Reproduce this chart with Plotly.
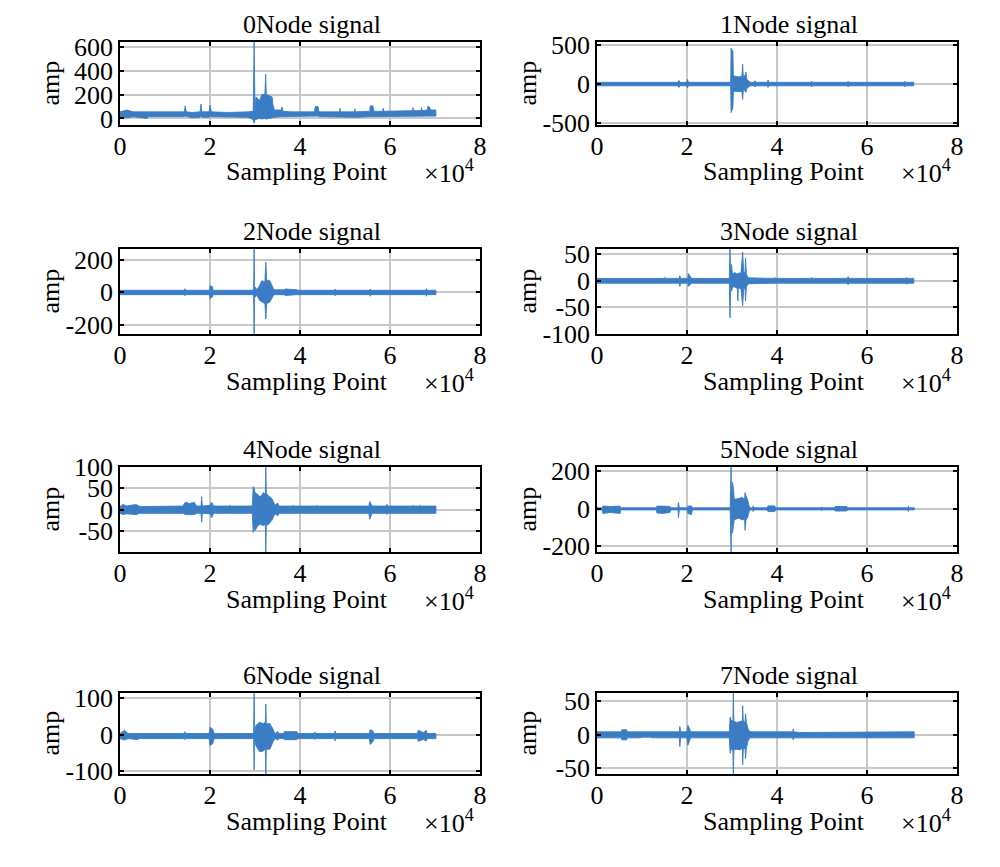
import plotly.graph_objects as go

W, H = 1000, 867
LINE = "rgb(58,125,197)"
FONT = "Liberation Serif"
FS = 26

# ---------------- data (envelopes) ----------------
titles = ["0Node signal", "1Node signal", "2Node signal", "3Node signal",
          "4Node signal", "5Node signal", "6Node signal", "7Node signal"]
x_label = "Sampling Point"
x_exp = "×10<sup>4</sup>"
y_label = "amp"
x_tickvals = [0, 20000, 40000, 60000, 80000]
x_ticktext = ["0", "2", "4", "6", "8"]

n0_x = [0, 1500, 3000, 6000, 6200, 9000, 14300, 14500, 14700, 16000, 17800, 18000, 18200, 19800, 20000, 20300,
        24000, 28500, 29600, 29800, 30000, 30200, 31000, 31500, 32200, 32370, 32500, 33200, 33800, 34000, 34300,
        35800, 36000, 36200, 38000, 43200, 43400, 44000, 44200, 48800, 48900, 49000, 52100, 52200, 52300,
        55500, 55600, 56200, 56400, 58400, 58500, 58600, 62000, 65000, 65100, 65200, 66900, 67000, 67100,
        68300, 68400, 68800, 69000, 70200]
n0_hi = [55, 70, 55, 55, 55, 50, 55, 105, 55, 50, 55, 120, 55, 55, 110, 55,
         50, 55, 60, 640, 60, 180, 150, 200, 200, 370, 200, 190, 180, 110, 70,
         70, 95, 60, 55, 55, 100, 100, 55, 55, 85, 55, 55, 80, 55,
         60, 105, 105, 60, 60, 85, 60, 65, 65, 90, 65, 65, 90, 65,
         70, 100, 95, 70, 70]
n0_lo = [10, 5, 15, 0, 15, 15, 15, 20, 15, 5, 10, 20, 10, 10, 15, 15,
         15, 10, -10, -40, -10, -10, 0, -5, 0, -5, -5, 0, 5, 10, 10,
         15, 15, 15, 15, 15, 20, 20, 15, 15, 15, 15, 10, 10, 10,
         15, 20, 20, 15, 15, 15, 15, 20, 20, 20, 20, 15, 15, 15,
         20, 20, 20, 20, 20]

n1_x = [0, 18000, 18200, 18400, 19900, 20100, 20300, 29700, 29800, 30000, 30200, 30300, 30500, 31500, 32200,
        32370, 32500, 33000, 33100, 33300, 33700, 34000, 35000, 35100, 35300, 37900, 38000, 38200,
        47600, 47700, 47800, 55700, 55800, 55900, 68300, 68400, 68500, 70400]
n1_hi = [20, 20, 45, 20, 20, 60, 20, 20, 460, 440, 420, 120, 100, 90, 100,
         255, 100, 110, 150, 60, 40, 20, 20, 40, 20, 20, 50, 20,
         20, 35, 20, 20, 35, 20, 20, 35, 20, 20]
n1_lo = [-25, -25, -45, -25, -25, -50, -25, -25, -370, -340, -300, -110, -95, -100, -100,
         -200, -90, -90, -110, -60, -40, -25, -25, -40, -25, -25, -45, -25,
         -25, -40, -25, -25, -40, -25, -25, -40, -25, -25]

n2_x = [0, 14300, 14450, 14600, 19900, 20000, 20500, 20700, 29700, 29800, 29900, 30100, 30400, 31000, 31500,
        32200, 32400, 32600, 33300, 33700, 34200, 36500, 36700, 39300, 39500, 47700, 47800, 47900,
        55500, 55600, 55800, 68000, 68100, 68200, 70200]
n2_hi = [12, 12, 22, 12, 12, 40, 35, 12, 12, 290, 12, 30, 15, 40, 70,
         65, 185, 75, 70, 40, 15, 15, 20, 15, 12, 12, 20, 12,
         12, 20, 12, 12, 22, 12, 12]
n2_lo = [-15, -15, -22, -15, -15, -40, -30, -15, -15, -290, -15, -30, -15, -50, -60,
         -70, -165, -70, -60, -40, -15, -15, -20, -15, -15, -15, -22, -15,
         -15, -25, -15, -15, -25, -15, -15]

n3_x = [0, 15000, 15100, 15200, 18300, 18400, 18600, 20200, 20300, 20800, 21000, 29400, 29550, 29700, 29900,
        30100, 30600, 31200, 31300, 31400, 32000, 32370, 32600, 32900, 33000, 33200, 33600,
        39400, 39500, 39600, 47600, 47700, 47800, 55600, 55800, 56000, 68600, 68800, 69000, 70400]
n3_hi = [4, 4, 6, 4, 4, 9, 4, 4, 13, 7, 4, 4, 62, 10, 30,
         12, 15, 12, 12, 14, 14, 53, 16, 15, 42, 12, 5,
         4, 6, 4, 4, 6, 4, 4, 7, 4, 4, 6, 4, 4]
n3_lo = [-5, -5, -6, -5, -5, -11, -5, -5, -11, -7, -5, -5, -70, -10, -20,
         -12, -12, -15, -38, -14, -15, -47, -15, -15, -38, -12, -6,
         -5, -6, -5, -5, -6, -5, -5, -8, -5, -5, -7, -5, -5]

n4_x = [0, 700, 1500, 3500, 4400, 14000, 14500, 15500, 16500, 17000, 18000, 18150, 18300, 20000, 20400, 20800,
        24300, 24400, 24500, 29400, 29600, 29800, 30000, 30600, 31200, 31900, 32300, 32400, 32500, 33000,
        33800, 34400, 35100, 35300, 38400, 38500, 38600, 43600, 43700, 43800, 55300, 55500, 55800, 56000,
        59200, 59300, 59500, 65100, 65200, 65300, 66600, 66700, 66800, 70200]
n4_hi = [7, 12, 8, 12, 7, 8, 17, 14, 17, 8, 8, 30, 8, 10, 17, 8,
         8, 10, 8, 8, 54, 50, 40, 35, 30, 40, 35, 105, 38, 32,
         25, 10, 15, 8, 8, 10, 8, 8, 10, 8, 8, 19, 14, 8,
         8, 12, 8, 8, 10, 8, 8, 10, 8, 8]
n4_lo = [-9, -12, -10, -12, -9, -9, -12, -12, -12, -9, -9, -30, -9, -10, -19, -9,
         -9, -10, -9, -9, -54, -40, -50, -38, -35, -38, -35, -105, -38, -35,
         -25, -10, -15, -9, -9, -10, -9, -9, -10, -9, -9, -23, -16, -9,
         -9, -12, -9, -9, -10, -9, -9, -10, -9, -9]

n5_x = [0, 1200, 1300, 3000, 5100, 5300, 13200, 13300, 14500, 16200, 16400, 18000, 18100, 18300, 20100, 20200,
        21000, 21200, 29600, 29800, 29900, 30100, 30300, 30500, 31500, 32300, 32800, 32900, 33100, 33500,
        33800, 34000, 34600, 34700, 34800, 37800, 38000, 39500, 39700, 49800, 49900, 50000, 52800, 52900,
        55500, 55700, 69100, 69200, 69300, 70500]
n5_hi = [5, 5, 14, 12, 14, 5, 5, 14, 14, 12, 5, 5, 33, 5, 5, 14,
         14, 5, 5, 240, 30, 140, 110, 50, 55, 60, 50, 86, 70, 45,
         15, 5, 5, 15, 5, 5, 15, 15, 5, 5, 10, 5, 5, 12,
         12, 5, 5, 15, 5, 5]
n5_lo = [-6, -6, -25, -20, -25, -6, -6, -22, -25, -20, -6, -6, -48, -6, -6, -25,
         -31, -6, -6, -240, -30, -130, -100, -58, -50, -60, -55, -115, -60, -45,
         -15, -6, -6, -15, -6, -6, -15, -15, -6, -6, -10, -6, -6, -12,
         -12, -6, -6, -15, -6, -6]

n6_x = [0, 1000, 1800, 4000, 4100, 14300, 14400, 14600, 19800, 20000, 20600, 20900, 29700, 29800, 29900, 30200,
        31000, 31800, 32300, 32400, 32500, 33300, 34000, 34400, 35100, 35300, 36400, 36500, 39300, 39500,
        43200, 43300, 43400, 47700, 47800, 47900, 55400, 55600, 56200, 56400, 66100, 66300, 67500, 68000,
        68300, 70200]
n6_hi = [3, 12, 3, 3, 3, 3, 8, 3, 3, 20, 15, 3, 3, 120, 3, 25,
         34, 30, 34, 84, 30, 30, 15, 3, 8, 3, 3, 8, 8, 3,
         3, 7, 3, 3, 10, 3, 3, 14, 10, 3, 3, 12, 5, 12,
         3, 3]
n6_lo = [-11, -15, -11, -14, -11, -11, -14, -11, -11, -30, -25, -11, -11, -97, -11, -30,
         -47, -45, -40, -115, -40, -40, -20, -11, -15, -11, -11, -14, -14, -11,
         -11, -14, -11, -11, -17, -11, -11, -27, -20, -11, -11, -18, -13, -18,
         -11, -11]

n7_x = [0, 5400, 5500, 6600, 6700, 9500, 10000, 12000, 12200, 18300, 18400, 18600, 20000, 20200, 20600, 20800,
        29400, 29600, 29900, 30200, 30300, 30400, 31000, 31800, 32300, 32370, 32500, 32900, 33000, 33200,
        33600, 34000, 43500, 43600, 43700, 45000, 55000, 55300, 70500]
n7_hi = [4, 4, 7, 7, 4, 4, 3, 3, 4, 4, 12, 4, 4, 14, 8, 4,
         4, 26, 20, 22, 65, 20, 18, 19, 20, 43, 20, 18, 31, 18,
         8, 4, 4, 8, 4, 3, 3, 4, 4]
n7_lo = [-5, -5, -8, -8, -5, -5, -4, -4, -5, -5, -18, -5, -5, -16, -10, -5,
         -5, -28, -20, -25, -65, -23, -22, -23, -20, -45, -23, -20, -36, -20,
         -9, -5, -5, -8, -5, -4, -4, -5, -5]

node_x = [n0_x, n1_x, n2_x, n3_x, n4_x, n5_x, n6_x, n7_x]
node_hi = [n0_hi, n1_hi, n2_hi, n3_hi, n4_hi, n5_hi, n6_hi, n7_hi]
node_lo = [n0_lo, n1_lo, n2_lo, n3_lo, n4_lo, n5_lo, n6_lo, n7_lo]

y_ranges = [[-55, 640], [-530, 540], [-257, 266], [-100, 59],
            [-100, 100], [-230, 222], [-108, 114], [-59, 62]]
y_ticks = [[0, 200, 400, 600], [-500, 0, 500], [-200, 0, 200], [-100, -50, 0, 50],
           [-50, 0, 50, 100], [-200, 0, 200], [-100, 0, 100], [-50, 0, 50]]
y_ticktext = [["0", "200", "400", "600"], ["-500", "0", "500"], ["-200", "0", "200"],
              ["-100", "-50", "0", "50"], ["-50", "0", "50", "100"], ["-200", "0", "200"],
              ["-100", "0", "100"], ["-50", "0", "50"]]

# ---------------- layout geometry (pixels) ----------------
col_px = [(120, 480), (597, 957)]
row_px = [(42, 125), (249, 334), (467, 552), (693, 774)]

fig = go.Figure()
layout = dict(width=W, height=H, margin=dict(l=0, r=0, t=0, b=0, autoexpand=False),
              paper_bgcolor="white", plot_bgcolor="white", showlegend=False,
              font=dict(family=FONT, size=FS, color="black"))
annotations = []

for i in range(8):
    r, c = divmod(i, 2)
    l, rr = col_px[c]
    t, b = row_px[r]
    k = "" if i == 0 else str(i + 1)
    xs = node_x[i]
    px = list(xs) + list(xs[::-1])
    py = list(node_hi[i]) + list(node_lo[i][::-1])
    fig.add_trace(go.Scatter(x=px, y=py, mode="lines", fill="toself", fillcolor=LINE,
                             line=dict(color=LINE, width=0.9), hoverinfo="skip",
                             xaxis="x" + k, yaxis="y" + k))
    axis_common = dict(showline=True, linecolor="black", linewidth=1.5, mirror="ticks",
                       ticks="inside", ticklen=4, tickwidth=1.5, tickcolor="black",
                       showgrid=True, gridcolor="#c8c8c8", gridwidth=1.5, zeroline=False,
                       automargin=False,
                       tickfont=dict(family=FONT, size=FS, color="black"))
    layout["xaxis" + k] = dict(domain=[l / W, rr / W], range=[0, 80000], anchor="y" + k,
                               tickvals=x_tickvals, ticktext=x_ticktext,
                               ticklabelstandoff=-3, **axis_common)
    layout["yaxis" + k] = dict(domain=[1 - b / H, 1 - t / H], range=y_ranges[i], anchor="x" + k,
                               tickvals=y_ticks[i], ticktext=y_ticktext[i], **axis_common)
    cx = (l + rr) / 2
    annotations.append(dict(text=titles[i], xref="paper", yref="paper", x=(cx + 12) / W,
                            y=1 - (t - 1) / H, xanchor="center", yanchor="bottom",
                            showarrow=False, font=dict(family=FONT, size=FS)))
    annotations.append(dict(text=x_label, xref="paper", yref="paper", x=(cx + 7) / W,
                            y=1 - (b + 47) / H, xanchor="center", yanchor="middle",
                            showarrow=False, font=dict(family=FONT, size=FS)))
    annotations.append(dict(text=x_exp, xref="paper", yref="paper", x=(rr - 4) / W,
                            y=1 - (b + 47) / H, xanchor="right", yanchor="middle",
                            showarrow=False, font=dict(family=FONT, size=FS)))
    annotations.append(dict(text=y_label, xref="paper", yref="paper", x=(l - 70) / W,
                            y=1 - ((t + b) / 2) / H, xanchor="center", yanchor="middle",
                            textangle=-90, showarrow=False, font=dict(family=FONT, size=FS)))

layout["annotations"] = annotations
fig.update_layout(**layout)
fig.write_html("out.html", config={"displayModeBar": False},
               post_script="document.body.style.margin='0px';document.body.style.padding='0px';")
